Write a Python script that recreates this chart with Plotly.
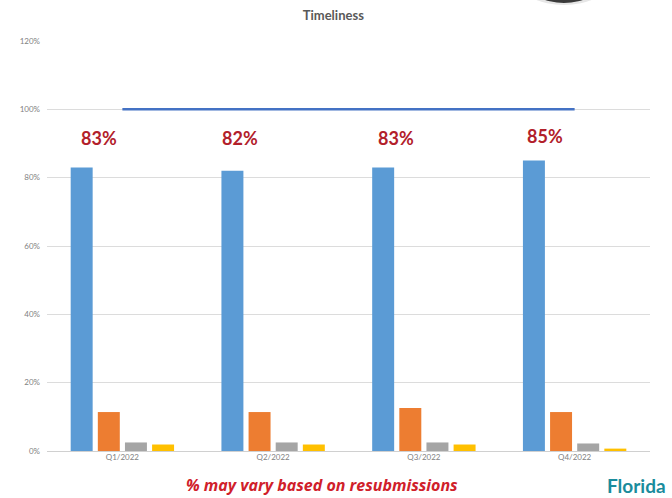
import plotly.graph_objects as go

# Quarterly timeliness data (percent)
quarters = ["Q1/2022", "Q2/2022", "Q3/2022", "Q4/2022"]
series_names = ["Series 1", "Series 2", "Series 3", "Series 4"]
timely = [83, 82, 83, 85]
series_2 = [11.4, 11.4, 12.6, 11.4]
series_3 = [2.5, 2.5, 2.5, 2.2]
series_4 = [1.9, 1.9, 1.9, 0.7]
target = [100, 100, 100, 100]
label_values = [83, 82, 83, 85]
y_ticks = [0, 20, 40, 60, 80, 100, 120]

bar_colors = ["#5B9BD5", "#ED7D31", "#A5A5A5", "#FFC000"]
x = list(range(len(quarters)))

layout_w, layout_h = 672, 498
ml, mr, mt, mb = 47, 22, 41, 47
pw, ph = layout_w - ml - mr, layout_h - mt - mb


def px_to_paper(px, py):
    return (px - ml) / pw, (layout_h - mb - py) / ph


fig = go.Figure()
for name, vals, col in zip(series_names, [timely, series_2, series_3, series_4], bar_colors):
    fig.add_trace(go.Bar(x=x, y=vals, name=name, marker=dict(color=col, line=dict(width=0))))

fig.add_trace(go.Scatter(x=x, y=target, mode="lines", name="Target",
                         line=dict(color="#4472C4", width=2.5)))

# Percentage call-outs above each quarter
label_shift = [-23, -33, -28, -30]
label_y = [91.5, 91.5, 91.5, 92.3]
for xi, v, sh, ly in zip(x, label_values, label_shift, label_y):
    fig.add_annotation(x=xi, y=ly, xref="x", yref="y", text=f"<b>{v}%</b>",
                       showarrow=False, xshift=sh,
                       font=dict(family="Lato", size=18, color="#B2202A"))

nx, ny = px_to_paper(322, 485)
fig.add_annotation(x=nx, y=ny, xref="paper", yref="paper",
                   text="<b><i>% may vary based on resubmissions</i></b>",
                   showarrow=False, xanchor="center", yanchor="middle",
                   font=dict(family="Open Sans", size=16, color="#D0202A"))

fx, fy = px_to_paper(636, 485)
fig.add_annotation(x=fx, y=fy, xref="paper", yref="paper", text="<b>Florida</b>",
                   showarrow=False, xanchor="center", yanchor="middle",
                   font=dict(family="Lato", size=19, color="#1A8C9C"))

# partial logo at top edge
x0, y0 = px_to_paper(520, 5)
x1, y1 = px_to_paper(608, -40)
fig.add_shape(type="circle", xref="paper", yref="paper", x0=x0, y0=y0, x1=x1, y1=y1,
              fillcolor="#E6E6E6", line=dict(width=0), layer="above")
x0, y0 = px_to_paper(527, 3)
x1, y1 = px_to_paper(601, -40)
fig.add_shape(type="circle", xref="paper", yref="paper", x0=x0, y0=y0, x1=x1, y1=y1,
              fillcolor="#3A3A3A", line=dict(width=0), layer="above")

fig.update_layout(
    width=layout_w, height=layout_h,
    margin=dict(l=ml, r=mr, t=mt, b=mb),
    paper_bgcolor="white", plot_bgcolor="white",
    barmode="group", bargap=0.28, bargroupgap=0.19,
    showlegend=False,
    title=dict(text="<b>Timeliness</b>", x=0.496, xanchor="center", y=0.968, yanchor="middle",
               font=dict(family="Lato", size=13, color="#595959")),
    xaxis=dict(tickvals=x, ticktext=quarters, range=[-0.5, 3.5],
               showgrid=False, zeroline=False, showline=False, ticks="",
               tickfont=dict(family="Lato", size=8, color="#7F7F7F")),
    yaxis=dict(range=[0, 120], tickvals=y_ticks, ticktext=[f"{t}%" for t in y_ticks],
               showgrid=True, gridcolor="#DCDCDC", gridwidth=1,
               zeroline=True, zerolinecolor="#D0D0D0", zerolinewidth=1,
               showline=False, ticks="", ticklabelstandoff=6,
               tickfont=dict(family="Lato", size=8, color="#7F7F7F")),
)

fig.write_html("out.html")
